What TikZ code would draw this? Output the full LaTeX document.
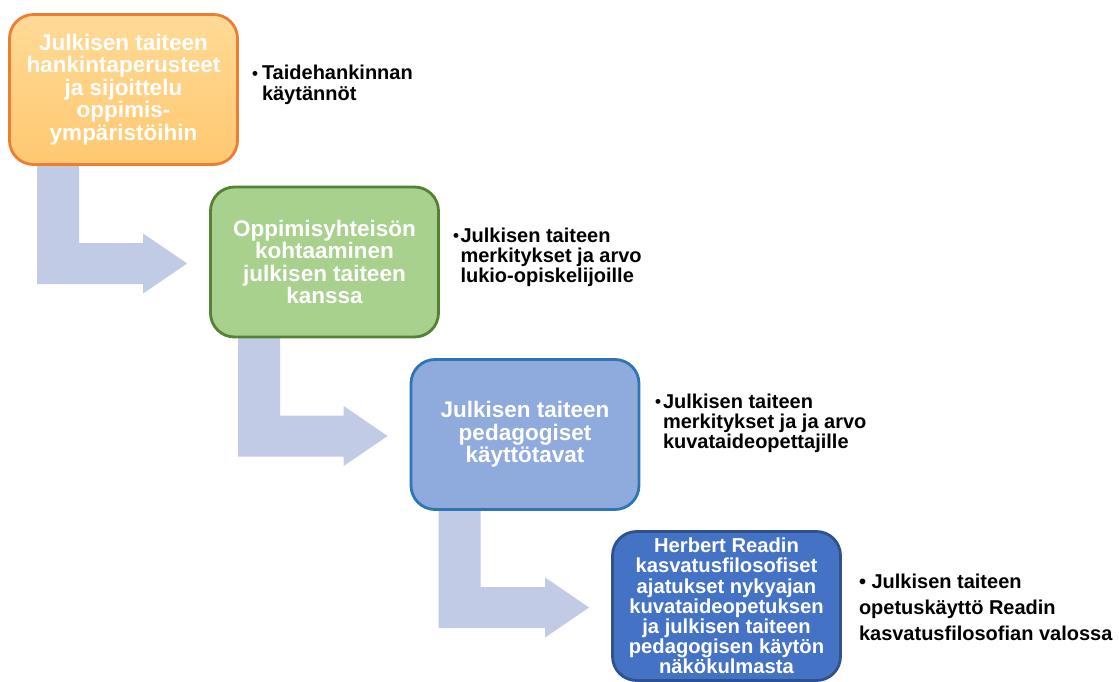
\documentclass[tikz,border=0pt]{standalone}
\usepackage{fontspec}
\setmainfont{Liberation Sans}
\usetikzlibrary{calc,backgrounds}
\definecolor{orgtop}{HTML}{FFDA96}
\definecolor{orgbot}{HTML}{FFC870}
\definecolor{orgline}{HTML}{ED7D31}
\definecolor{grnfill}{HTML}{A9D18E}
\definecolor{grnline}{HTML}{548235}
\definecolor{lbfill}{HTML}{8FAADC}
\definecolor{lbline}{HTML}{2E75B6}
\definecolor{dbfill}{HTML}{4472C4}
\definecolor{dbline}{HTML}{2F528F}
\definecolor{flowcol}{HTML}{C1CBE5}
\tikzset{
  stepbox/.style={rounded corners=24pt, line width=2.8pt, minimum width=228pt,
    minimum height=150pt, align=center, text=white, inner sep=0pt,
    font=\bfseries\fontsize{22.5}{22.5}\selectfont},
  note/.style={inner sep=0pt, outer sep=0pt, anchor=base west, text=black,
    font=\bfseries\fontsize{20}{20}\selectfont},
  flowfill/.style={fill=flowcol}
}
\newcommand\smallbul[1]{\makebox[#1][l]{\raisebox{0.8pt}{\fontsize{17}{17}\selectfont•}}}
\newcommand\flowarrow[2]{%
  \coordinate (s) at ([xshift=29pt,yshift=3pt]#1.south west);
  \coordinate (t) at ([xshift=-22pt,yshift=-1.5pt]#2.west);
  \fill[flowfill] (s) -- ($(s)+(42,0)$) -- ($(s |- t)+(42,-20.5)$)
    -- ($(t)+(-44,-20.5)$) -- ($(t)+(-44,-30)$) -- (t) -- ($(t)+(-44,30)$)
    -- ($(t)+(-44,20.5)$) -- ($(s |- t)+(0,20.5)$) -- cycle;}
\begin{document}
\begin{tikzpicture}[x=1pt,y=-1pt]
\useasboundingbox (0,0) rectangle (1119,682);
\node[stepbox, draw=orgline, top color=orgtop, bottom color=orgbot] (b1) at (123.5,89.5)
  {Julkisen taiteen\\hankintaperusteet\\ja sijoittelu\\oppimis-\\ympäristöihin};
\node[stepbox, draw=grnline, fill=grnfill] (b2) at (324.5,262)
  {Oppimisyhteisön\\kohtaaminen\\julkisen taiteen\\kanssa};
\node[stepbox, draw=lbline, fill=lbfill] (b3) at (525,434.5)
  {Julkisen taiteen\\pedagogiset\\käyttötavat};
\node[stepbox, draw=dbline, fill=dbfill, minimum height=149pt,
  font=\bfseries\fontsize{20.2}{20.2}\selectfont] (b4) at (726.5,606)
  {Herbert Readin\\kasvatusfilosofiset\\ajatukset nykyajan\\kuvataideopetuksen\\ja julkisen taiteen\\pedagogisen käytön\\näkökulmasta};
\begin{scope}[on background layer]
\flowarrow{b1}{b2}
\flowarrow{b2}{b3}
\flowarrow{b3}{b4}
\end{scope}
\node[note] (n1) at (252,80) {\begin{tabular}[t]{@{}l@{}l@{}}\smallbul{10pt}&Taidehankinnan\\&käytännöt\end{tabular}};
\node[note, font=\bfseries\fontsize{20}{19.5}\selectfont] (n2) at (453,242) {\begin{tabular}[t]{@{}l@{}l@{}}\smallbul{7.5pt}&Julkisen taiteen\\&merkitykset ja arvo\\&lukio-opiskelijoille\end{tabular}};
\node[note] (n3) at (655,408) {\begin{tabular}[t]{@{}l@{}l@{}}\smallbul{8pt}&Julkisen taiteen\\&merkitykset ja ja arvo\\&kuvataideopettajille\end{tabular}};
\node[note, font=\bfseries\fontsize{20}{26}\selectfont] (n4) at (859,588) {\begin{tabular}[t]{@{}l@{}}• Julkisen taiteen\\opetuskäyttö Readin\\kasvatusfilosofian valossa\end{tabular}};
\end{tikzpicture}
\end{document}
